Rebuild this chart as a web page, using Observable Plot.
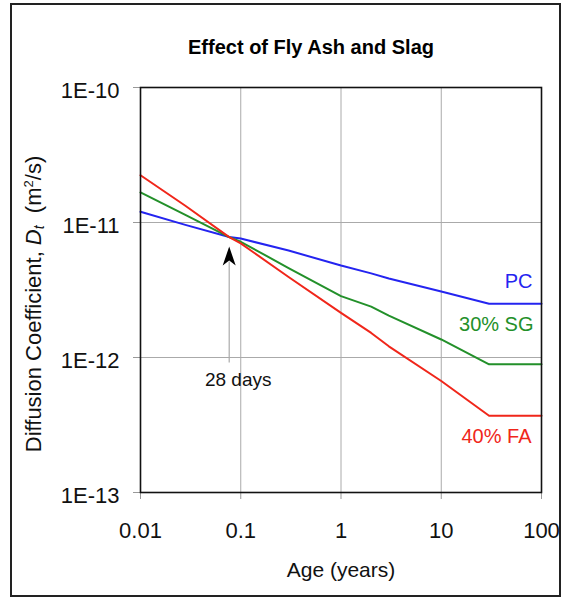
<!DOCTYPE html>
<html>
<head>
<meta charset="utf-8">
<script src="https://cdn.jsdelivr.net/npm/d3@7"></script>
<script src="https://cdn.jsdelivr.net/npm/@observablehq/plot@0.6"></script>
<style>
  body { margin: 0; background: #fff; }
  #wrap { position: relative; width: 566px; height: 600px; font-family: "Liberation Sans", Arial, sans-serif; }
  #border { position: absolute; left: 10px; top: 3px; width: 547px; height: 590px; border: 2px solid #222; }
  #wrap svg { position: absolute; left: 0; top: 0; }
</style>
</head>
<body>
<div id="wrap"><div id="border"></div></div>
<script>
// ---- data ----
const title = "Effect of Fly Ash and Slag";
const years = [0.01, 0.028, 0.0767, 0.1, 0.3, 1, 2, 3, 10, 30, 100];
const pcD = [1.2e-11, 9.6e-12, 7.8e-12, 7.6e-12, 6.2e-12, 4.8e-12, 4.2e-12, 3.85e-12, 3.08e-12, 2.5e-12, 2.5e-12];
const sgD = [1.67e-11, 1.14e-11, 7.8e-12, 7.2e-12, 4.6e-12, 2.85e-12, 2.38e-12, 2.04e-12, 1.36e-12, 8.9e-13, 8.9e-13];
const faD = [2.24e-11, 1.33e-11, 7.8e-12, 7.0e-12, 3.95e-12, 2.14e-12, 1.52e-12, 1.21e-12, 6.7e-13, 3.7e-13, 3.7e-13];
const seriesNames = ["PC", "30% SG", "40% FA"];
const seriesColors = ["#2424f0", "#23902a", "#f0261a"];
const xTicks = [0.01, 0.1, 1, 10, 100];
const yTicks = [1e-13, 1e-12, 1e-11, 1e-10];
const xLabel = "Age (years)";
const annotAge = [0.0767];          // 28 days in years
const annotTop = [5.1e-12];          // top of annotation line
const annotBottom = [9.1e-13];       // bottom of annotation line
const annotHead = [5.64e-12];        // arrow head centre
const annotText = ["28 days"];
const annotTextY = [6.8e-13];

// ---- build tables ----
const seriesValues = [pcD, sgD, faD];
const rows = [];
seriesNames.forEach((name, i) => years.forEach((t, j) => rows.push({series: name, t, D: seriesValues[i][j]})));
const last = name => rows.filter(r => r.series === name).slice(-1);
const annot = annotAge.map((t, i) => ({t, top: annotTop[i], bottom: annotBottom[i], head: annotHead[i], text: annotText[i], ty: annotTextY[i]}));

const arrowHead = {
  draw(ctx) {
    ctx.moveTo(0, -9.5);
    ctx.lineTo(6.5, 9.5);
    ctx.lineTo(0, 4.5);
    ctx.lineTo(-6.5, 9.5);
    ctx.closePath();
  }
};

const font = "Liberation Sans, Arial, sans-serif";
const chart = Plot.plot({
  width: 566,
  height: 600,
  marginLeft: 140,
  marginRight: 25,
  marginTop: 87,
  marginBottom: 108,
  style: {fontFamily: font, fontSize: "22px", color: "#111", background: "transparent"},
  x: {type: "log", domain: [0.01, 100]},
  y: {type: "log", domain: [1e-13, 1e-10]},
  color: {domain: seriesNames, range: seriesColors},
  marks: [
    Plot.gridX(xTicks, {stroke: "#aaa", strokeOpacity: 1, strokeWidth: 1}),
    Plot.gridY(yTicks, {stroke: "#aaa", strokeOpacity: 1, strokeWidth: 1}),
    Plot.axisX({ticks: xTicks, tickFormat: d => String(d), tickSize: 7, tickPadding: 23, stroke: "#999", label: null, fontSize: 22}),
    Plot.axisY({ticks: yTicks, tickFormat: () => "", tickSize: 7, stroke: "#999", label: null}),
    Plot.axisY({ticks: yTicks, tickFormat: d => "1E" + Math.round(Math.log10(d)), tickSize: 0, tickPadding: 21, label: null, fontSize: 22, dy: 3}),
    Plot.ruleX(annot, {x: "t", y1: "bottom", y2: "top", stroke: "#aaa", strokeWidth: 1.2}),
    Plot.line(rows, {x: "t", y: "D", z: "series", stroke: "series", strokeWidth: 2}),
    Plot.dot(annot, {x: "t", y: "head", symbol: arrowHead, fill: "#000", stroke: "none", r: 3}),
    Plot.text(annot, {x: "t", y: "ty", text: "text", dx: 9, fontSize: 19, fill: "#111"}),
    Plot.text(last("PC"), {x: "t", y: "D", text: "series", fill: seriesColors[0], textAnchor: "end", dx: -9, dy: -22, fontSize: 20}),
    Plot.text(last("30% SG"), {x: "t", y: "D", text: "series", fill: seriesColors[1], textAnchor: "end", dx: -8, dy: -40, fontSize: 20}),
    Plot.text(last("40% FA"), {x: "t", y: "D", text: "series", fill: seriesColors[2], textAnchor: "end", dx: -10, dy: 21, fontSize: 20}),
    Plot.frame({stroke: "#111", strokeWidth: 1.6}),
    Plot.text([title], {frameAnchor: "top", lineAnchor: "middle", dy: -40, dx: -30, fontSize: 20, fontWeight: "bold", fill: "#000"}),
    Plot.text([xLabel], {frameAnchor: "bottom", lineAnchor: "middle", dy: 78, fontSize: 21, fill: "#111"}),
    Plot.text(["Diffusion Coefficient, Dt (m2/s)"], {frameAnchor: "left", textAnchor: "middle", lineAnchor: "middle", rotate: -90, dx: -107, dy: 14, fontSize: 22, fill: "#111", className: "ylab"})
  ]
});
document.getElementById("wrap").appendChild(chart);

// rich y-axis label: italic D with subscript t, superscript 2
const yl = d3.select(chart).select("g.ylab text");
if (!yl.empty()) {
  yl.text(null);
  yl.append("tspan").text("Diffusion Coefficient, ");
  yl.append("tspan").attr("font-style", "italic").text("D");
  yl.append("tspan").attr("font-style", "italic").attr("font-size", "14px").attr("dy", "3").text("t");
  yl.append("tspan").attr("dy", "-3").text("  (m");
  yl.append("tspan").attr("font-size", "13px").attr("dy", "-8").text("2");
  yl.append("tspan").attr("dy", "8").text("/s)");
}
</script>
</body>
</html>
